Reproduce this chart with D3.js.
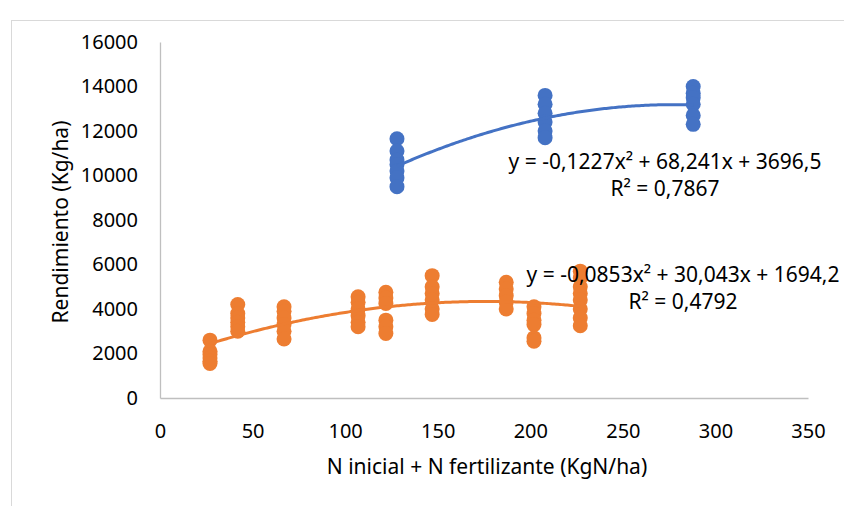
<!DOCTYPE html>
<html>
<head>
<meta charset="utf-8">
<script src="https://cdn.jsdelivr.net/npm/d3@7"></script>
<style>
  body { margin: 0; background: #fff; }
  svg { display: block; font-family: "Noto Sans", "Open Sans", sans-serif; }
</style>
</head>
<body>
<svg id="chart" width="844" height="506"></svg>
<script>
// high N series (blue)
let blueX = [128, 128, 128, 128, 128, 128, 128,
             208, 208, 208, 208, 208, 208,
             288, 288, 288, 288, 288, 288]
let blueY = [11650, 11100, 10700, 10500, 10200, 9900, 9500,
             13600, 13200, 12800, 12400, 12000, 11700,
             14000, 13700, 13500, 13200, 12700, 12300]

// low N series (orange)
let orangeX = [27, 27, 27, 27, 27, 27,
               42, 42, 42, 42, 42, 42,
               67, 67, 67, 67, 67, 67,
               107, 107, 107, 107, 107, 107,
               122, 122, 122, 122, 122, 122,
               147, 147, 147, 147, 147, 147,
               187, 187, 187, 187, 187,
               202, 202, 202, 202, 202, 202,
               227, 227, 227, 227, 227, 227, 227, 227]
let orangeY = [2600, 2100, 1950, 1800, 1650, 1550,
               4200, 3800, 3600, 3400, 3200, 3000,
               4100, 3900, 3600, 3300, 3000, 2650,
               4550, 4300, 4000, 3700, 3400, 3200,
               4750, 4500, 4250, 3500, 3200, 2900,
               5500, 5000, 4700, 4400, 4000, 3750,
               5200, 4900, 4600, 4300, 4000,
               4100, 3800, 3500, 3300, 2700, 2550,
               5700, 5400, 5000, 4700, 4400, 4000, 3600, 3250]

// polynomial trendline coefficients [a, b, c] for a*x^2 + b*x + c
let blueFit = [-0.1227, 68.241, 3696.5]
let orangeFit = [-0.0853, 30.043, 1694.2]
let blueLabel = ["y = -0,1227x² + 68,241x + 3696,5", "R² = 0,7867"]
let orangeLabel = ["y = -0,0853x² + 30,043x + 1694,2", "R² = 0,4792"]

let xTicks = [0, 50, 100, 150, 200, 250, 300, 350]
let yTicks = [0, 2000, 4000, 6000, 8000, 10000, 12000, 14000, 16000]

const blue = "#4472c4"
const orange = "#ed7d31"
const fs = 20
const labelFs = 21

let svg = d3.select("#chart")

// chart frame
svg.append("rect")
    .attr("x", 11.5).attr("y", 20.5)
    .attr("width", 900).attr("height", 600)
    .attr("fill", "none").attr("stroke", "#d9d9d9")

let x = d3.scaleLinear().domain([0, 350]).range([160, 808])
let y = d3.scaleLinear().domain([0, 16000]).range([398, 42])

let xAxis = svg.append("g")
    .attr("transform", "translate(0,398)")
    .call(d3.axisBottom(x).tickValues(xTicks).tickFormat(d3.format("d")).tickSize(0).tickPadding(26))
xAxis.attr("font-family", null).attr("font-size", fs)
xAxis.select(".domain").attr("stroke", "#bfbfbf").attr("stroke-width", 1.3)
xAxis.selectAll("text").attr("fill", "#000")

let yAxis = svg.append("g")
    .attr("transform", "translate(160,0)")
    .call(d3.axisLeft(y).tickValues(yTicks).tickFormat(d3.format("d")).tickSize(0).tickPadding(22))
yAxis.attr("font-family", null).attr("font-size", fs)
yAxis.select(".domain").attr("stroke", "#bfbfbf").attr("stroke-width", 1.3)
yAxis.selectAll("text").attr("fill", "#000")

svg.append("text")
    .attr("x", 487).attr("y", 474)
    .attr("text-anchor", "middle")
    .attr("font-size", labelFs)
    .text("N inicial + N fertilizante (KgN/ha)")

svg.append("text")
    .attr("transform", "translate(68,222) rotate(-90)")
    .attr("text-anchor", "middle")
    .attr("font-size", labelFs)
    .text("Rendimiento (Kg/ha)")

function drawTrend(coef, x0, x1, color) {
    let xs = d3.range(x0, x1 + 0.5, 1)
    let line = d3.line()
        .x(d => x(d))
        .y(d => y(coef[0] * d * d + coef[1] * d + coef[2]))
    svg.append("path")
        .datum(xs)
        .attr("d", line)
        .attr("fill", "none")
        .attr("stroke", color)
        .attr("stroke-width", 3)
}

function drawPoints(xs, ys, color) {
    svg.append("g").selectAll("circle")
        .data(xs.map((d, i) => [d, ys[i]]))
        .enter()
        .append("circle")
        .attr("cx", d => x(d[0]))
        .attr("cy", d => y(d[1]))
        .attr("r", 7.5)
        .attr("fill", color)
}

drawPoints(blueX, blueY, blue)
drawPoints(orangeX, orangeY, orange)
drawTrend(blueFit, 128, 288, blue)
drawTrend(orangeFit, 27, 227, orange)

function drawLabel(lines, cx, top) {
    svg.append("text")
        .attr("x", cx).attr("y", top)
        .attr("text-anchor", "middle")
        .attr("font-size", labelFs)
        .text(lines[0])
    svg.append("text")
        .attr("x", cx).attr("y", top + 27)
        .attr("text-anchor", "middle")
        .attr("font-size", labelFs)
        .text(lines[1])
}

drawLabel(blueLabel, 665, 169)
drawLabel(orangeLabel, 683, 282)
</script>
</body>
</html>
